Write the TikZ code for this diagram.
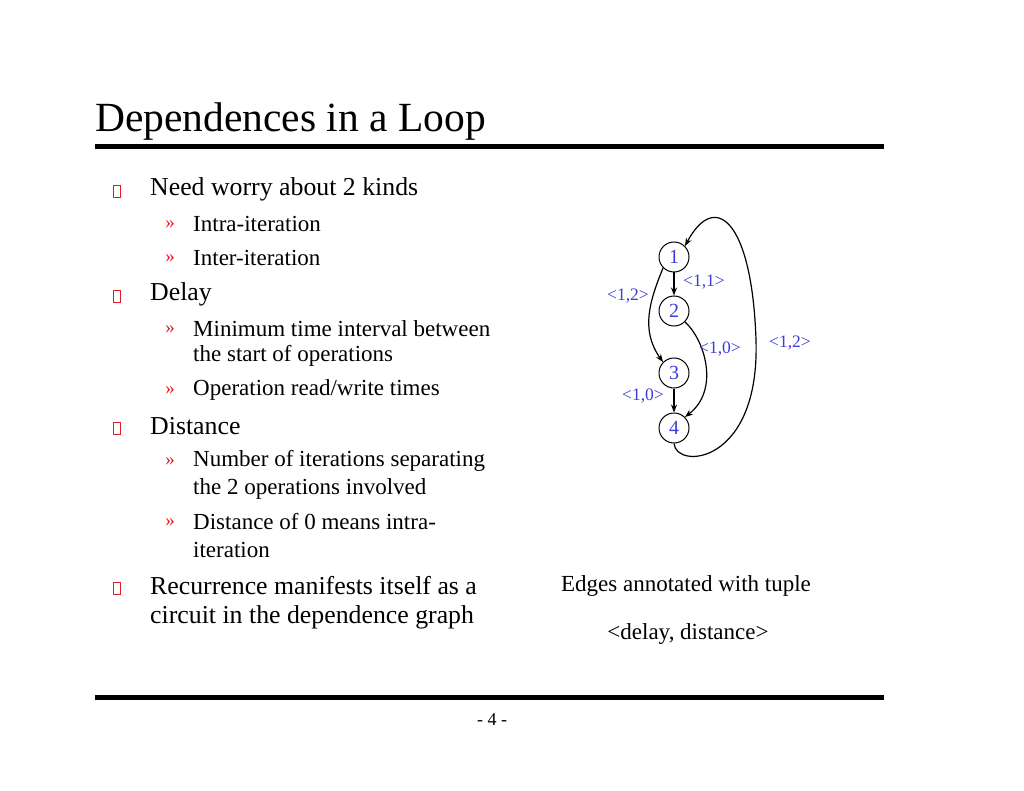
\documentclass[tikz,border=0pt]{standalone}
\usepackage{fontspec}
\setmainfont{Liberation Serif}
\usetikzlibrary{arrows.meta}
\definecolor{lbl}{RGB}{60,60,220}
\definecolor{bul}{RGB}{220,30,40}
\begin{document}
\begin{tikzpicture}[x=1pt,y=-1pt,
  vert/.style={circle,draw,line width=1pt,inner sep=0pt,minimum size=30pt,font=\fontsize{20}{20}\selectfont,text=lbl},
  lab/.style={font=\fontsize{17.5}{17.5}\selectfont,text=lbl,inner sep=0pt},
  edge/.style={draw,-{Stealth[length=8pt,width=6pt]},line width=1.2pt},
  lone/.style={anchor=west,inner sep=0pt,font=\fontsize{25.8}{25.8}\selectfont},
  ltwo/.style={anchor=west,inner sep=0pt,font=\fontsize{23}{23}\selectfont},
  bx/.style={draw=bul,line width=0.9pt,minimum width=7pt,minimum height=12pt,inner sep=0pt},
  gt/.style={anchor=center,inner sep=0pt,text=bul,font=\fontsize{19}{19}\selectfont}]
\useasboundingbox (0,0) rectangle (1024,791);
\node[anchor=west,inner sep=0pt,font=\fontsize{41.5}{41.5}\selectfont] (title) at (95,122) {Dependences in a Loop};
\draw[line width=5pt] (95,147) -- (884,147);
\draw[line width=5pt] (95,697) -- (884,697);
\node[inner sep=0pt,font=\fontsize{18}{18}\selectfont] (pg) at (492,720) {- 4 -};
% level 1
\foreach \y/\t [count=\i] in {189/{Need worry about 2 kinds},294/{Delay},426/{Distance},586/{Recurrence manifests itself as a}}{
  \node[bx] (b\i) at (117,\y+2) {};
  \node[lone] (l\i) at (150,\y) {\t};
}
\node[lone] (l5) at (150,617) {circuit in the dependence graph};
% level 2
\foreach \y/\t [count=\i] in {224/{Intra-iteration},258/{Inter-iteration},329/{Minimum time interval between},390/{Operation read/write times},461/{Number of iterations separating},522/{Distance of 0 means intra-}}{
  \node[gt] (g\i) at (170,\y+1) {»};
  \node[ltwo] (m\i) at (193,\y) {\t};
}
\node[ltwo] (c1) at (193,356) {the start of operations};
\node[ltwo] (c2) at (193,489) {the 2 operations involved};
\node[ltwo] (c3) at (193,550) {iteration};
% graph
\node[vert] (n1) at (674,257) {1};
\node[vert] (n2) at (674,311) {2};
\node[vert] (n3) at (674,373) {3};
\node[vert] (n4) at (674,428) {4};
\draw[edge] (n1) -- (n2);
\draw[edge] (n3) -- (n4);
\draw[edge] (n1.south west) .. controls (650,300) and (640,330) .. (n3.north west);
\draw[edge] (n2.south east) .. controls (705,340) and (720,390) .. (n4.north east);
\coordinate (lp) at (756,340);
\draw[edge] (n4.south) .. controls (676,470) and (760,465) .. (lp)
  .. controls (752,220) and (715,190) .. (n1.north east);
\node[lab] (e12) at (704,282) {<1,1>};
\node[lab] (e13) at (628,296) {<1,2>};
\node[lab] (e24) at (720,349) {<1,0>};
\node[lab] (e41) at (790,343) {<1,2>};
\node[lab] (e34) at (643,396) {<1,0>};
\node[ltwo,anchor=center] (cap1) at (686,586) {Edges annotated with tuple};
\node[ltwo,anchor=center] (cap2) at (688,634) {<delay, distance>};
\end{tikzpicture}
\end{document}
